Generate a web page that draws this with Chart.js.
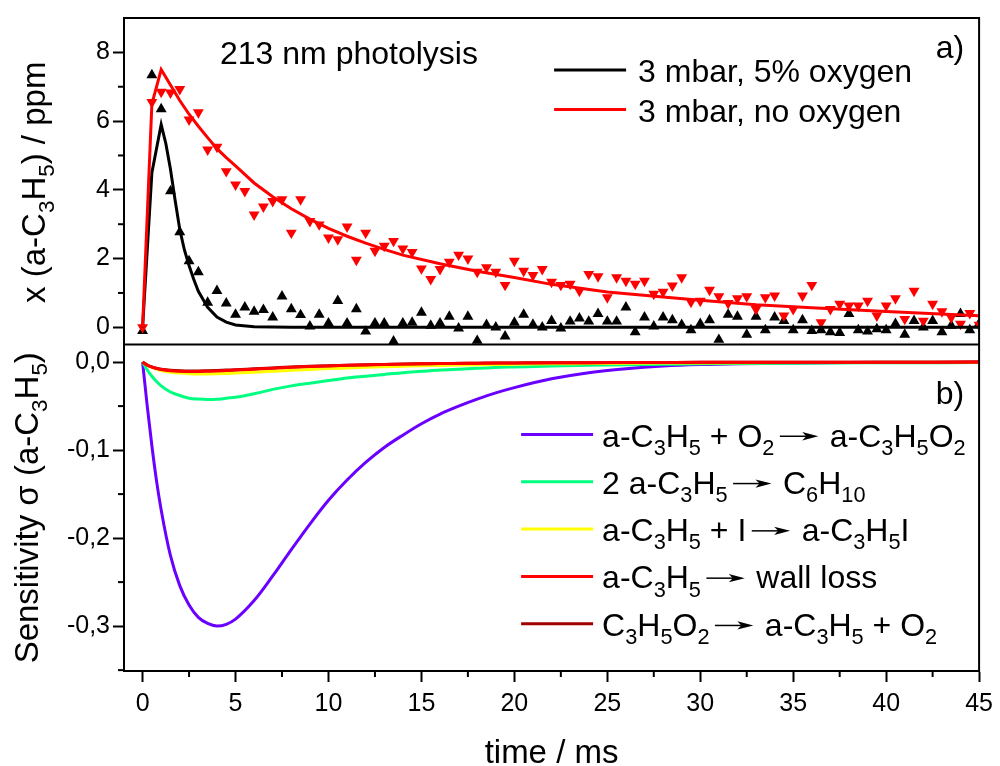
<!DOCTYPE html>
<html>
<head>
<meta charset="utf-8">
<script src="https://cdn.jsdelivr.net/npm/chart.js@4.4.1/dist/chart.umd.min.js"></script>
<style>
html,body{margin:0;padding:0;background:#fff;}
#wrap{width:1000px;height:766px;position:relative;}
</style>
</head>
<body>
<div id="wrap"><canvas id="c" width="1000" height="766"></canvas></div>
<script>
const FONT = '"Liberation Sans", Arial, Helvetica, sans-serif';

// ---------- tick labels ----------
const X_TICKS = [0, 5, 10, 15, 20, 25, 30, 35, 40, 45];
const X_MINOR = [2.5, 7.5, 12.5, 17.5, 22.5, 27.5, 32.5, 37.5, 42.5];
const CONC_TICKS = [0, 2, 4, 6, 8];
const CONC_MINOR = [1, 3, 5, 7];
const SENS_TICKS = [0, -0.1, -0.2, -0.3];
const SENS_MINOR = [-0.05, -0.15, -0.25, -0.35];

// ---------- panel a) measured points ----------
const TIME_EXP = [0,0.5,1,1.5,2,2.5,3,3.5,4,4.5,5,5.5,6,6.5,7,7.5,8,8.5,9,9.5,10,10.5,11,11.5,12,12.5,13,13.5,14,14.5,15,15.5,16,16.5,17,17.5,18,18.5,19,19.5,20,20.5,21,21.5,22,22.5,23,23.5,24,24.5,25,25.5,26,26.5,27,27.5,28,28.5,29,29.5,30,30.5,31,31.5,32,32.5,33,33.5,34,34.5,35,35.5,36,36.5,37,37.5,38,38.5,39,39.5,40,40.5,41,41.5,42,42.5,43,43.5,44,44.5,45];
const EXP_O2 = [-0.1,7.34,6.35,3.96,2.77,1.93,1.61,0.72,1.06,0.70,0.37,0.58,0.46,0.51,0.29,0.90,0.53,0.36,0.03,0.37,0.12,0.77,0.12,0.53,-0.12,0.12,0.12,-0.41,0.12,0.14,0.43,0.05,0.12,0.31,-0.03,0.31,-0.39,0.07,0.0,-0.26,0.14,0.37,0.08,0.0,0.19,-0.03,0.17,0.26,0.17,0.39,0.17,0.17,0.58,-0.14,0.29,0.03,0.29,0.21,0.07,-0.08,0.10,0.21,-0.36,0.37,0.31,-0.21,0.31,-0.08,0.29,0.19,-0.08,0.21,-0.10,-0.08,-0.14,-0.16,0.39,-0.08,-0.12,-0.05,-0.08,0.10,-0.21,0.19,0.0,0.19,-0.14,0.05,0.39,-0.08,0.10];
const EXP_NOO2 = [0,6.55,6.85,6.83,6.93,6.04,6.25,5.17,5.25,4.54,4.15,3.96,3.28,3.51,3.67,3.72,2.75,3.72,3.09,2.99,2.61,2.56,2.93,1.96,2.75,2.22,2.37,2.51,2.29,2.19,1.71,1.40,1.69,1.90,2.11,2.00,1.61,1.74,1.61,1.23,1.93,1.64,1.52,1.69,1.32,1.23,1.26,1.06,1.55,1.48,0.87,1.45,1.35,1.26,1.35,0.97,1.03,1.21,1.45,0.74,0.77,1.09,0.90,0.70,0.84,0.90,0.53,0.87,0.92,0.34,0.53,0.92,1.23,0.14,0.53,0.68,0.63,0.63,0.77,0.34,0.63,0.84,0.24,1.06,0.19,0.68,0.46,0.29,0.10,0.41,0.07];

// ---------- panel a) simulated curves ----------
const FIT_O2_T = [0,0.5,1,1.25,1.5,1.75,2,2.25,2.5,2.75,3,3.5,4,4.5,5,6,7,8,10,45];
const FIT_O2_V = [0,4.5,5.9,5.35,4.6,3.7,2.85,2.25,1.8,1.4,1.05,0.58,0.3,0.15,0.07,0.02,0.01,0,0,0];
const FIT_NOO2_T = [0,0.5,1,1.5,2,2.5,3,3.5,4,4.5,5,6,7,8,9,10,11,12,13,14,16,18,20,22,25,28,30,33,36,40,45];
const FIT_NOO2_V = [0,6.5,7.5,7.05,6.6,6.2,5.85,5.52,5.2,4.94,4.7,4.2,3.8,3.45,3.15,2.88,2.65,2.45,2.27,2.1,1.85,1.63,1.45,1.25,1.03,0.88,0.79,0.66,0.57,0.46,0.34];

// ---------- panel b) sensitivities ----------
const SENS_T = [0,0.25,0.5,0.75,1,1.5,2,2.5,3,3.5,4,4.5,5,6,7,8,9,10,11,12,13,14,15,16,17,18,19,20,22,24,26,28,30,35,40,45];
const S_O2 = [0,-0.05,-0.095,-0.135,-0.168,-0.220,-0.254,-0.276,-0.290,-0.297,-0.300,-0.298,-0.292,-0.271,-0.243,-0.213,-0.184,-0.157,-0.134,-0.114,-0.097,-0.083,-0.070,-0.059,-0.050,-0.042,-0.035,-0.029,-0.019,-0.012,-0.0075,-0.0045,-0.0028,-0.0009,-0.0002,0];
const S_SELF = [0,-0.009,-0.016,-0.022,-0.027,-0.034,-0.038,-0.041,-0.042,-0.0425,-0.0423,-0.041,-0.040,-0.036,-0.031,-0.027,-0.024,-0.021,-0.018,-0.016,-0.014,-0.012,-0.0105,-0.009,-0.008,-0.007,-0.006,-0.0055,-0.0045,-0.0037,-0.003,-0.0025,-0.002,-0.0012,-0.0008,-0.0005];
const S_I = [0,-0.0035,-0.006,-0.008,-0.0095,-0.0115,-0.0125,-0.0132,-0.0135,-0.0135,-0.0133,-0.013,-0.0125,-0.0115,-0.0104,-0.0093,-0.0083,-0.0074,-0.0066,-0.0058,-0.0052,-0.0047,-0.0042,-0.0038,-0.0034,-0.003,-0.0027,-0.0025,-0.002,-0.0017,-0.0014,-0.0011,-0.0009,-0.0005,-0.0003,-0.0001];
const S_WALL = [0,-0.0035,-0.0058,-0.0073,-0.0084,-0.0097,-0.0103,-0.0106,-0.0106,-0.0104,-0.0101,-0.0096,-0.0091,-0.008,-0.0069,-0.0059,-0.005,-0.0043,-0.0037,-0.0032,-0.0027,-0.0023,-0.002,-0.0017,-0.0015,-0.0013,-0.0011,-0.001,-0.0008,-0.0006,-0.0005,-0.0004,-0.0003,-0.0002,-0.0001,0];
const S_BACK = [0,-0.0033,-0.0055,-0.007,-0.008,-0.0092,-0.0098,-0.0101,-0.0101,-0.0099,-0.0096,-0.0091,-0.0087,-0.0076,-0.0066,-0.0056,-0.0048,-0.0041,-0.0035,-0.003,-0.0026,-0.0022,-0.0019,-0.0016,-0.0014,-0.0012,-0.001,-0.0009,-0.0007,-0.0006,-0.0005,-0.0004,-0.0003,-0.0002,-0.0001,0];

const xy = (ts, vs) => ts.map((t, i) => ({x: t, y: vs[i]}));

// ---------- rich text (subscripts + arrows) ----------
function richSegments(text) {
  const segs = [];
  text.split(/\s*→\s*/).forEach((part, i) => {
    if (i > 0) segs.push({arrow: true});
    let prevLetter = false, prevSub = false, buf = '', bufSub = false;
    for (const ch of part) {
      const isDigit = /[0-9]/.test(ch);
      const sub = isDigit && (prevLetter || prevSub);
      if (buf && sub !== bufSub) { segs.push({t: buf, sub: bufSub}); buf = ''; }
      bufSub = sub; buf += ch;
      prevSub = sub; prevLetter = /[A-Za-z]/.test(ch);
    }
    if (buf) segs.push({t: buf, sub: bufSub});
  });
  return segs;
}
function drawRich(ctx, text, x, y, size, color, measureOnly) {
  const segs = richSegments(text);
  let cx = x;
  ctx.fillStyle = color; ctx.strokeStyle = color;
  ctx.textBaseline = 'alphabetic'; ctx.textAlign = 'left';
  for (const s of segs) {
    if (s.arrow) {
      const g1 = size * 0.17, len = size * 1.2, g2 = size * 0.36;
      if (!measureOnly) {
        const ay = y - size * 0.32, x0 = cx + g1, x1 = cx + g1 + len, hl = size * 0.5, hh = size * 0.13;
        ctx.lineWidth = 1.5;
        ctx.beginPath(); ctx.moveTo(x0, ay); ctx.lineTo(x1 - hl * 0.5, ay); ctx.stroke();
        ctx.beginPath(); ctx.moveTo(x1, ay); ctx.lineTo(x1 - hl, ay - hh); ctx.lineTo(x1 - hl * 0.75, ay); ctx.lineTo(x1 - hl, ay + hh); ctx.closePath(); ctx.fill();
      }
      cx += g1 + len + g2;
      continue;
    }
    const fs = s.sub ? size * 0.68 : size;
    ctx.font = fs + 'px ' + FONT;
    if (!measureOnly) ctx.fillText(s.t, cx, y + (s.sub ? size * 0.26 : 0));
    cx += ctx.measureText(s.t).width;
  }
  return cx - x;
}

// ---------- plugin: frame, minor ticks, titles, legends, annotations ----------
const decorPlugin = {
  id: 'decor',
  afterDraw(chart) {
    const ctx = chart.ctx, a = chart.chartArea;
    const xs = chart.scales.x, ya = chart.scales.yA, yb = chart.scales.yB;
    ctx.save();
    // frame & separator
    ctx.strokeStyle = '#000'; ctx.lineWidth = 2;
    ctx.strokeRect(a.left, a.top, a.right - a.left, a.bottom - a.top);
    ctx.beginPath(); ctx.moveTo(a.left, yb.top); ctx.lineTo(a.right, yb.top); ctx.stroke();
    // minor ticks
    ctx.lineWidth = 2;
    X_MINOR.forEach(v => { const p = xs.getPixelForValue(v); ctx.beginPath(); ctx.moveTo(p, a.bottom); ctx.lineTo(p, a.bottom + 6); ctx.stroke(); });
    CONC_MINOR.forEach(v => { const p = ya.getPixelForValue(v); ctx.beginPath(); ctx.moveTo(a.left, p); ctx.lineTo(a.left - 6, p); ctx.stroke(); });
    SENS_MINOR.forEach(v => { const p = yb.getPixelForValue(v); if (p > a.bottom + 1) return; ctx.beginPath(); ctx.moveTo(a.left, p); ctx.lineTo(a.left - 6, p); ctx.stroke(); });

    // y-axis titles (rotated, with subscripts)
    const rot = (text, bx, cy, size) => {
      ctx.save();
      ctx.translate(bx, cy); ctx.rotate(-Math.PI / 2);
      const w = drawRich(ctx, text, 0, 0, size, '#000', true);
      drawRich(ctx, text, -w / 2, 0, size, '#000', false);
      ctx.restore();
    };
    rot('x (a-C3H5) / ppm', 45, (ya.top + ya.bottom) / 2 + 1, 33);
    rot('Sensitivity σ (a-C3H5)', 38, (yb.top + yb.bottom) / 2, 33);

    // annotations
    ctx.fillStyle = '#000'; ctx.font = '32px ' + FONT; ctx.textBaseline = 'alphabetic';
    ctx.textAlign = 'left';
    ctx.fillText('213 nm photolysis', a.left + 96, a.top + 46);
    ctx.textAlign = 'right';
    ctx.fillText('a)', a.right - 15, a.top + 40);
    ctx.fillText('b)', a.right - 15, yb.top + 59);

    // legends
    const ds = chart.data.datasets;
    const legA = ds.filter(d => d.legendPanel === 'a');
    legA.forEach((d, i) => {
      const by = a.top + 64 + i * 39.5;
      const lx = a.right - 425;
      ctx.strokeStyle = d.borderColor; ctx.lineWidth = 3;
      ctx.beginPath(); ctx.moveTo(lx, by - 12); ctx.lineTo(lx + 72, by - 12); ctx.stroke();
      drawRich(ctx, d.label, lx + 84, by, 32, '#000', false);
    });
    const legB = ds.filter(d => d.legendPanel === 'b');
    legB.forEach((d, i) => {
      const by = yb.top + 102 + i * 47.3;
      const lx = a.right - 458;
      ctx.strokeStyle = d.borderColor; ctx.lineWidth = 3;
      ctx.beginPath(); ctx.moveTo(lx, by - 12); ctx.lineTo(lx + 72, by - 12); ctx.stroke();
      drawRich(ctx, d.label, lx + 81, by, 32, '#000', false);
    });
    ctx.restore();
  }
};

const lineDS = (label, data, color, axis, order, panel, smooth) => ({
  label, data, showLine: true, borderColor: color, backgroundColor: color,
  borderWidth: 3, pointRadius: 0, tension: smooth ? 0.4 : 0,
  cubicInterpolationMode: smooth ? 'monotone' : 'default',
  yAxisID: axis, order, legendPanel: panel
});

new Chart(document.getElementById('c'), {
  type: 'scatter',
  data: {
    datasets: [
      lineDS('3 mbar, 5% oxygen', xy(FIT_O2_T, FIT_O2_V), '#000000', 'yA', 2, 'a', false),
      lineDS('3 mbar, no oxygen', xy(FIT_NOO2_T, FIT_NOO2_V), '#ff0000', 'yA', 1, 'a', false),
      {label: '3 mbar, no oxygen (measured)', data: xy(TIME_EXP, EXP_NOO2), yAxisID: 'yA', order: 3,
       pointStyle: 'triangle', rotation: 180, pointRadius: 6.3, pointBorderWidth: 0,
       backgroundColor: '#ff0000', borderColor: '#ff0000'},
      {label: '3 mbar, 5% oxygen (measured)', data: xy(TIME_EXP, EXP_O2), yAxisID: 'yA', order: 4,
       pointStyle: 'triangle', pointRadius: 6.3, pointBorderWidth: 0,
       backgroundColor: '#000000', borderColor: '#000000'},
      lineDS('a-C3H5 + O2 → a-C3H5O2', xy(SENS_T, S_O2), '#6a00ff', 'yB', 15, 'b', true),
      lineDS('2 a-C3H5 → C6H10', xy(SENS_T, S_SELF), '#00ff80', 'yB', 14, 'b', true),
      lineDS('a-C3H5 + I → a-C3H5I', xy(SENS_T, S_I), '#ffff00', 'yB', 13, 'b', true),
      lineDS('a-C3H5 → wall loss', xy(SENS_T, S_WALL), '#ff0000', 'yB', 11, 'b', true),
      lineDS('C3H5O2 → a-C3H5 + O2', xy(SENS_T, S_BACK), '#a00000', 'yB', 12, 'b', true)
    ]
  },
  options: {
    responsive: false, animation: false,
    layout: {padding: {top: 15, right: 17, left: 0, bottom: 0}},
    plugins: {legend: {display: false}, tooltip: {enabled: false}},
    scales: {
      x: {
        type: 'linear', position: 'bottom', min: -1, max: 45,
        afterBuildTicks: s => { s.ticks = X_TICKS.map(v => ({value: v})); },
        afterFit: s => { s.height = 95; },
        grid: {drawOnChartArea: false, drawTicks: true, tickLength: 11, tickWidth: 2, tickColor: '#000'},
        border: {display: true, color: '#000', width: 2},
        ticks: {color: '#000', font: {family: FONT, size: 25}, padding: 7, maxRotation: 0, autoSkip: false,
                callback: v => String(v)},
        title: {display: true, text: 'time / ms', color: '#000', font: {family: FONT, size: 33, lineHeight: 0.75}, padding: 0}
      },
      yB: {
        type: 'linear', position: 'left', stack: 'panels', stackWeight: 1, min: -0.351, max: 0.02,
        afterBuildTicks: s => { s.ticks = SENS_TICKS.map(v => ({value: v})); },
        afterFit: s => { s.width = 124; },
        grid: {drawOnChartArea: false, drawTicks: true, tickLength: 11, tickWidth: 2, tickColor: '#000'},
        border: {display: true, color: '#000', width: 2},
        ticks: {color: '#000', font: {family: FONT, size: 25}, padding: 3,
                callback: v => (Math.abs(v) < 1e-9 ? 0 : v).toFixed(1).replace('.', ',')}
      },
      yA: {
        type: 'linear', position: 'left', stack: 'panels', stackWeight: 1, min: -0.5, max: 9,
        afterBuildTicks: s => { s.ticks = CONC_TICKS.map(v => ({value: v})); },
        afterFit: s => { s.width = 124; },
        grid: {drawOnChartArea: false, drawTicks: true, tickLength: 11, tickWidth: 2, tickColor: '#000'},
        border: {display: true, color: '#000', width: 2},
        ticks: {color: '#000', font: {family: FONT, size: 25}, padding: 3, callback: v => String(v)}
      }
    }
  },
  plugins: [decorPlugin]
});
</script>
</body>
</html>
